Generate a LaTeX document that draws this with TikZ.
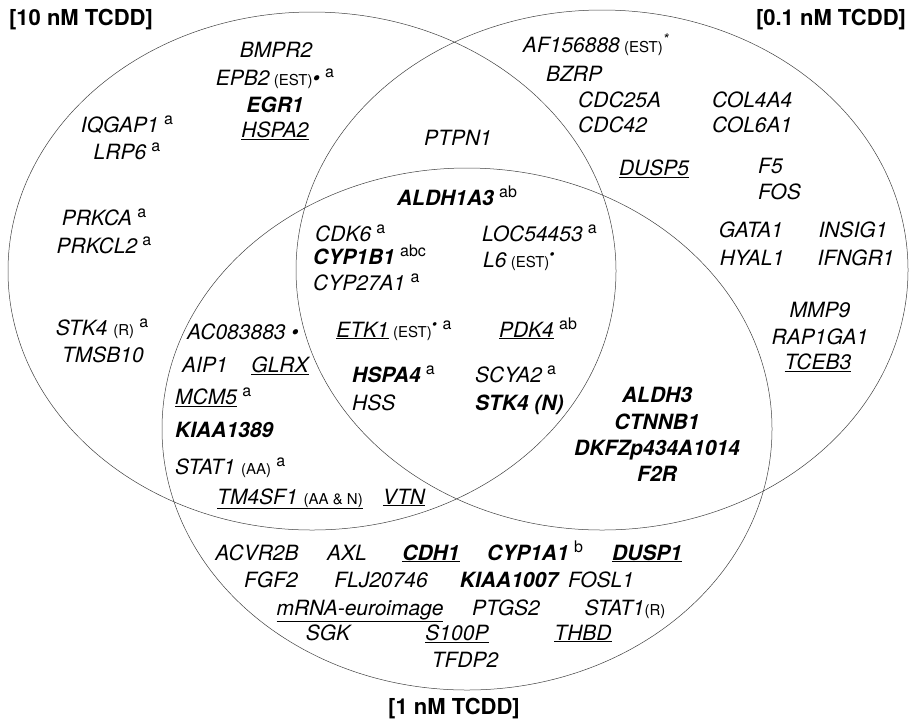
\documentclass[tikz,border=0pt]{standalone}
\usepackage{fontspec}
\setmainfont{TeX Gyre Heros}

\newcommand{\nt}[1]{\hspace{.25em}\raisebox{.36em}{\upshape\mdseries\fontsize{16}{18}\selectfont #1}}
\newcommand{\est}{\hspace{.2em}{\upshape\mdseries\fontsize{15}{18}\selectfont(EST)}}
\newcommand{\rr}[1]{{\upshape\mdseries\fontsize{15}{18}\selectfont(#1)}}

\tikzset{
  gene/.style = {anchor=base, inner sep=0pt, font=\fontsize{21}{24}\selectfont\itshape},
  bgene/.style = {gene, font=\fontsize{21}{24}\selectfont\bfseries\itshape},
  dose/.style = {anchor=base, inner sep=0pt, font=\fontsize{22}{24}\selectfont\bfseries},
  venn/.style = {line width=0.5pt, draw=black!75}
}

\begin{document}
\begin{tikzpicture}[x=1pt, y=-1pt]
\useasboundingbox (0, 0) rectangle (912, 724);
%\draw [help lines, step=50] (0, 0) grid (912, 724);
\draw [venn] (312, 271) ellipse [x radius=304, y radius=259];
\draw [venn] (602, 270) ellipse [x radius=306, y radius=260];
\draw [venn] (467, 429) ellipse [x radius=305, y radius=261];

\node [dose] (d10) at (81, 25) {[10 nM TCDD]};
\node [dose] (d01) at (831, 25) {[0.1 nM TCDD]};
\node [dose] (d1) at (454, 714) {[1 nM TCDD]};

% 10 nM only
\node [gene] (bmpr2) at (276, 57) {BMPR2};
\node [gene] (epb2) at (275, 85) {EPB2\est\textbullet\nt{a}};
\node [bgene] (egr1) at (275, 112) {EGR1};
\node [gene] (hspa2) at (275, 137) {\underline{HSPA2}};
\node [gene] (iqgap1) at (127, 132) {IQGAP1\nt{a}};
\node [gene] (lrp6) at (127, 159) {LRP6\nt{a}};
\node [gene] (prkca) at (104, 225) {PRKCA\nt{a}};
\node [gene] (prkcl2) at (104, 253) {PRKCL2\nt{a}};
\node [gene] (stk4r) at (102, 335) {STK4 \rr{R}\nt{a}};
\node [gene] (tmsb10) at (103, 362) {TMSB10};

% 10 nM and 0.1 nM
\node [gene] (ptpn1) at (458, 145) {PTPN1};

% 0.1 nM only
\node [gene] (af156888) at (596, 52) {AF156888\est\textsuperscript{*}};
\node [gene] (bzrp) at (574, 81) {BZRP};
\node [gene, anchor=base west] (cdc25a) at (578, 107) {CDC25A};
\node [gene, anchor=base west] (cdc42) at (578, 132) {CDC42};
\node [gene, anchor=base west] (col4a4) at (712, 107) {COL4A4};
\node [gene, anchor=base west] (col6a1) at (712, 132) {COL6A1};
\node [gene] (dusp5) at (654, 175) {\underline{DUSP5}};
\node [gene, anchor=base west] (f5) at (758, 173) {F5};
\node [gene, anchor=base west] (fos) at (758, 199) {FOS};
\node [gene] (gata1) at (751, 237) {GATA1};
\node [gene] (hyal1) at (752, 265) {HYAL1};
\node [gene] (insig1) at (853, 237) {INSIG1};
\node [gene] (ifngr1) at (856, 265) {IFNGR1};
\node [gene] (mmp9) at (820, 317) {MMP9};
\node [gene] (rap1ga1) at (820, 344) {RAP1GA1};
\node [gene] (tceb3) at (818, 369) {\underline{TCEB3}};

% all three
\node [bgene] (aldh1a3) at (457, 205) {ALDH1A3\nt{ab}};
\node [gene, anchor=base west] (cdk6) at (315, 241) {CDK6\nt{a}};
\node [bgene, anchor=base west] (cyp1b1) at (313, 264) {CYP1B1\nt{abc}};
\node [gene, anchor=base west] (cyp27a1) at (313, 290) {CYP27A1\nt{a}};
\node [gene, anchor=base west] (loc54453) at (482, 241) {LOC54453\nt{a}};
\node [gene, anchor=base west] (l6) at (483, 267) {L6\est\textsuperscript{\textbullet}};
\node [gene] (etk1) at (394, 337) {\underline{ETK1}\est\textsuperscript{\textbullet}\nt{a}};
\node [gene] (pdk4) at (538, 337) {\underline{PDK4}\nt{ab}};
\node [bgene, anchor=base west] (hspa4) at (352, 382) {HSPA4\nt{a}};
\node [gene, anchor=base west] (hss) at (352, 410) {HSS};
\node [gene, anchor=base west] (scya2) at (475, 382) {SCYA2\nt{a}};
\node [bgene, anchor=base west] (stk4n) at (475, 410) {STK4 (N)};

% 10 nM and 1 nM
\node [gene] (ac083883) at (243, 339) {AC083883 \textbullet};
\node [gene] (aip1) at (205, 372) {AIP1};
\node [gene] (glrx) at (280, 372) {\underline{GLRX}};
\node [gene, anchor=base west] (mcm5) at (175, 404) {\underline{MCM5}\nt{a}};
\node [bgene, anchor=base west] (kiaa1389) at (175, 437) {KIAA1389};
\node [gene, anchor=base west] (stat1aa) at (175, 474) {STAT1 \rr{AA}\nt{a}};
\node [gene] (tm4sf1) at (290, 504) {\underline{TM4SF1 \rr{AA \& N}}};
\node [gene] (vtn) at (404, 504) {\underline{VTN}};

% 0.1 nM and 1 nM
\node [bgene] (aldh3) at (657, 402) {ALDH3};
\node [bgene] (ctnnb1) at (657, 429) {CTNNB1};
\node [bgene] (dkfz) at (657, 455) {DKFZp434A1014};
\node [bgene] (f2r) at (657, 481) {F2R};

% 1 nM only
\node [gene] (acvr2b) at (257, 560) {ACVR2B};
\node [gene] (axl) at (347, 560) {AXL};
\node [bgene] (cdh1) at (431, 560) {\underline{CDH1}};
\node [bgene] (cyp1a1) at (535, 560) {CYP1A1\nt{b}};
\node [bgene] (dusp1) at (647, 560) {\underline{DUSP1}};
\node [gene] (fgf2) at (271, 587) {FGF2};
\node [gene] (flj20746) at (381, 587) {FLJ20746};
\node [bgene] (kiaa1007) at (509, 587) {KIAA1007};
\node [gene] (fosl1) at (601, 587) {FOSL1};
\node [gene] (mrna) at (360, 615) {\underline{mRNA-euroimage}};
\node [gene] (ptgs2) at (506, 615) {PTGS2};
\node [gene] (stat1r) at (625, 615) {STAT1\rr{R}};
\node [gene] (sgk) at (328, 640) {SGK};
\node [gene] (s100p) at (457, 640) {\underline{S100P}};
\node [gene] (thbd) at (583, 640) {\underline{THBD}};
\node [gene] (tfdp2) at (465, 667) {TFDP2};
\end{tikzpicture}
\end{document}
